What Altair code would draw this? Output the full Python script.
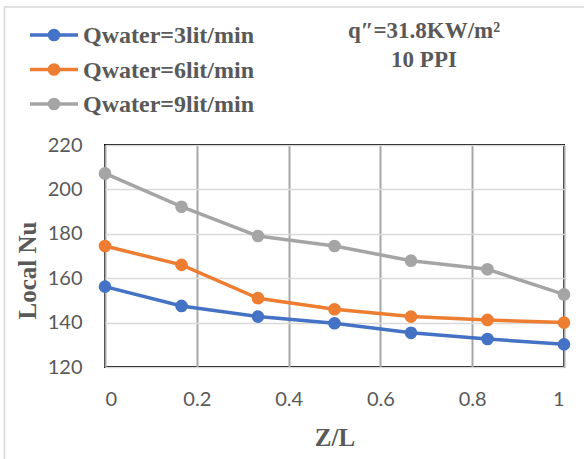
import altair as alt
import pandas as pd

# ---- data ----
z_over_l = [0, 0.1667, 0.3333, 0.5, 0.6667, 0.8333, 1]
nu_3 = [156.2, 147.5, 142.7, 139.7, 135.4, 132.6, 130.2]
nu_6 = [174.5, 166.0, 151.0, 146.0, 142.7, 141.2, 140.0]
nu_9 = [207.2, 192.2, 179.0, 174.5, 167.9, 164.0, 152.7]
series_names = ["Qwater=3lit/min", "Qwater=6lit/min", "Qwater=9lit/min"]
series_colors = ["#4472C4", "#ED7D31", "#A5A5A5"]
x_ticks = [0, 0.2, 0.4, 0.6, 0.8, 1]
y_ticks = [120, 140, 160, 180, 200, 220]
note_lines = ["q″=31.8KW/m²", "10 PPI"]

rows = []
for name, vals in zip(series_names, [nu_3, nu_6, nu_9]):
    for z, v in zip(z_over_l, vals):
        rows.append({"series": name, "z": z, "nu": v})
df = pd.DataFrame(rows)

TXT = "#595959"
SERIF = "Liberation Serif"
SANS = "Lato"

color = alt.Color("series:N", scale=alt.Scale(domain=series_names, range=series_colors), legend=None)
x_enc = alt.X(
    "z:Q",
    scale=alt.Scale(domain=[0, 1], nice=False),
    axis=alt.Axis(
        values=x_ticks, format="~g", title="Z/L", grid=True, gridColor="#A6A6A6", gridWidth=2,
        domain=False, ticks=False, labelPadding=22, labelFontSize=20,
        titleFont=SERIF, titleFontSize=25, titleFontWeight="bold", titleColor=TXT,
        titleY=58, titleBaseline="top",
    ),
)
y_enc = alt.Y(
    "nu:Q",
    scale=alt.Scale(domain=[120, 220], nice=False),
    axis=alt.Axis(
        values=y_ticks, title="Local Nu", grid=True, gridColor="#D9D9D9", gridWidth=1.5,
        domain=False, ticks=False, labelPadding=23, labelFontSize=20,
        titleFont=SERIF, titleFontSize=25, titleFontWeight="bold", titleColor=TXT,
        titleX=-78, titleY=125, titleAngle=-90, titleBaseline="middle", titleAlign="center",
    ),
)

lines = alt.Chart(df).mark_line(strokeWidth=3.5).encode(x=x_enc, y=y_enc, color=color, order="z:Q")
points = alt.Chart(df).mark_point(filled=True, size=160, opacity=1).encode(x=x_enc, y=y_enc, color=color)

dummy = pd.DataFrame({"a": [0]})
legend_layers = []
for i, (name, col) in enumerate(zip(series_names, series_colors)):
    yy = 35 + 34.5 * i - 145
    legend_layers.append(
        alt.Chart(dummy).mark_rule(color=col, strokeWidth=3.5).encode(
            x=alt.value(-75), x2=alt.value(-27), y=alt.value(yy)
        )
    )
    legend_layers.append(
        alt.Chart(dummy).mark_point(filled=True, size=160, opacity=1, color=col).encode(
            x=alt.value(-51), y=alt.value(yy)
        )
    )
    legend_layers.append(
        alt.Chart(dummy).mark_text(
            text=name, font=SERIF, fontSize=24, fontWeight="bold", color=TXT,
            align="left", baseline="middle",
        ).encode(x=alt.value(-22), y=alt.value(yy + 1))
    )

note_layers = []
for j, line in enumerate(note_lines):
    note_layers.append(
        alt.Chart(dummy).mark_text(
            text=line, font=SERIF, fontSize=23, fontWeight="bold", color=TXT,
            align="center", baseline="alphabetic",
        ).encode(x=alt.value(424 - 105), y=alt.value(38 + 29 * j - 145))
    )

border = alt.Chart(dummy).mark_rect(fillOpacity=0, stroke="#D9D9D9", strokeWidth=1.5).encode(
    x=alt.value(-100.5), x2=alt.value(600), y=alt.value(-138), y2=alt.value(400)
)

chart = alt.layer(lines, points, *legend_layers, *note_layers, border).properties(
    width=459,
    height=222,
    autosize=alt.AutoSizeParams(type="none"),
    padding={"left": 105, "top": 145, "right": 20, "bottom": 92},
    background="white",
).configure_view(
    stroke="black", strokeWidth=2
).configure_axis(
    labelFont=SANS, labelColor=TXT
)

chart.save("out.html", embed_options={"renderer": "svg", "actions": False})
